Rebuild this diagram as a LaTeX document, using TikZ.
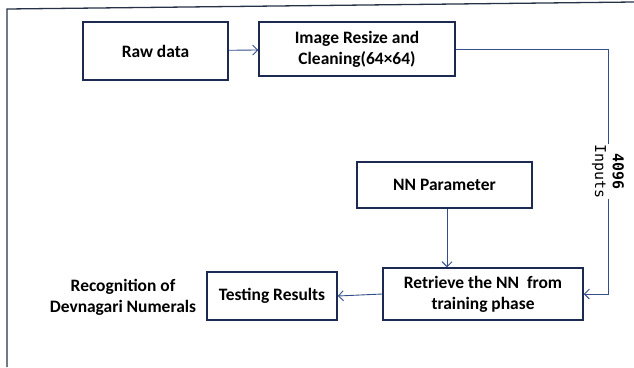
\documentclass[tikz,border=0pt]{standalone}
\usepackage{fontspec}
\setmainfont{Carlito}
\newfontfamily\labelmono{DejaVu Sans Mono}
\usetikzlibrary{positioning,arrows.meta}

\definecolor{boxline}{RGB}{28,42,82}
\definecolor{arrowline}{RGB}{52,78,140}
\definecolor{frameline}{RGB}{40,50,70}

\tikzset{
  stage/.style={draw=boxline, line width=1.5pt, align=center, font=\bfseries\fontsize{17.5}{21}\selectfont, inner sep=0pt},
  flow/.style={draw=arrowline, line width=0.9pt, -{Straight Barb[length=5pt,width=10pt]}}
}

\begin{document}
\begin{tikzpicture}[x=1bp,y=-1bp]
  \useasboundingbox (0,0) rectangle (634,367);

  % outer frame
  \draw[frameline, line width=1.3pt] (7,367) -- (7,9) -- (634,2);

  \node [stage, line width=1.1pt, minimum width=145bp, minimum height=58bp] (raw) at (155.5,51) {Raw data};
  \node [stage, minimum width=196bp, minimum height=54bp] (resize) at (357,49) {Image Resize and\\Cleaning(64×64)};

  %%

  \node [stage, minimum width=175bp, minimum height=46bp] (param) at (444.5,185) {NN Parameter};
  \node [stage, minimum width=200bp, minimum height=52bp] (retrieve) at (483,294) {Retrieve the NN\ \ from\\training phase};

  %%

  \node [stage, minimum width=130bp, minimum height=48bp] (test) at (272,296) {Testing Results};
  \node [align=center, font=\bfseries\fontsize{17.5}{21}\selectfont] (recog) at (123,297) {Recognition of\\Devnagari Numerals};

  \coordinate (turn) at (608,49);

  \draw [flow] (raw) -- (resize);
  \draw [flow] (resize.east) -- (turn) |- (retrieve.east)
    node [pos=0.25, rotate=-90, fill=white, align=center, font=\labelmono\fontsize{15}{18}\selectfont, inner sep=1pt] {\textbf{4096}\\Inputs};
  \draw [flow] (param.south -| 447,0) -- (retrieve.north -| 447,0);
  \draw [flow] (retrieve.west) -- (test.east);

\end{tikzpicture}
\end{document}
